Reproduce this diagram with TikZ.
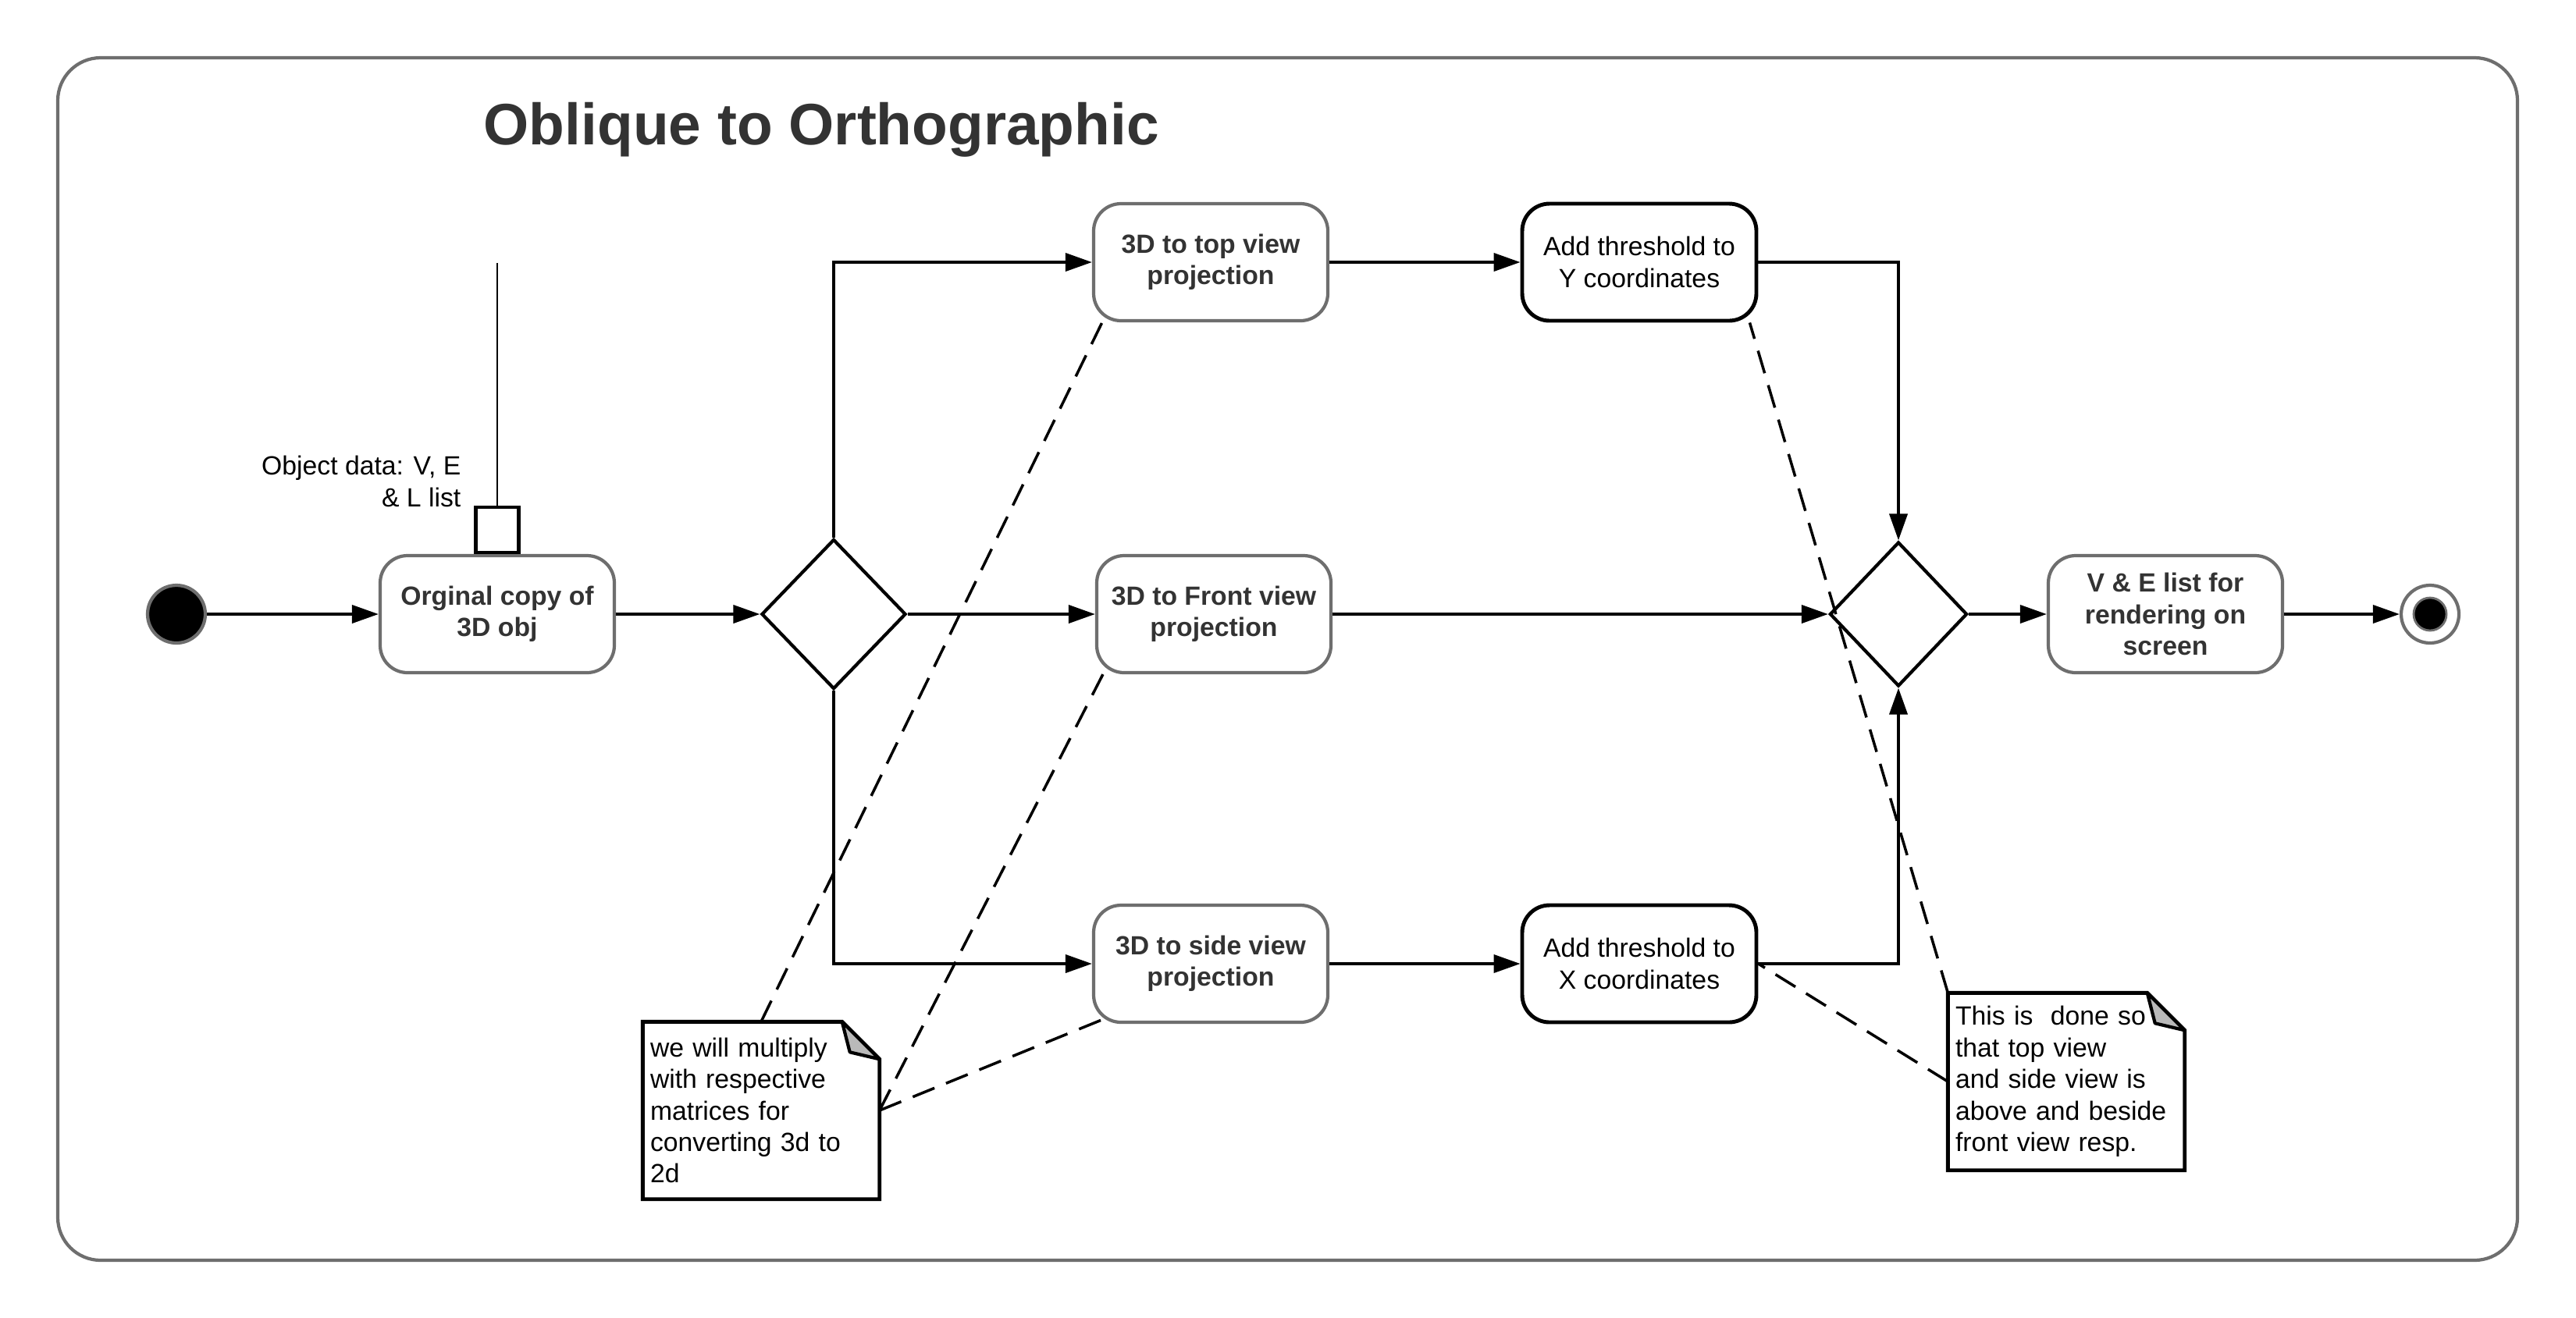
\documentclass[tikz,border=0pt]{standalone}
\usepackage{fontspec}
\setmainfont{Liberation Sans}
\usetikzlibrary {positioning}
\usetikzlibrary {shapes.geometric}
\usetikzlibrary {arrows.meta}
\definecolor{lineGray}{HTML}{6E6E6E}
\definecolor{textGray}{HTML}{333333}
\tikzset{
actBox/.style={rectangle,rounded corners=0.35cm,minimum height=1.5cm,minimum width=3cm,draw=lineGray,line width=1.2pt,align=center,text=textGray,font=\fontsize{9.6}{11.5}\selectfont\bfseries}
}
\tikzset{
thrBox/.style={rectangle,rounded corners=0.35cm,minimum height=1.5cm,minimum width=3cm,draw=black,line width=1.4pt,align=center,font=\fontsize{9.6}{11.5}\selectfont}
}
\tikzset{
noteBox/.style={rectangle,minimum height=2.26cm,text width=2.84cm,inner xsep=0.09cm,align=left,font=\fontsize{9.6}{11.5}\selectfont}
}

\begin{document}
\begin{tikzpicture}[decBox/.style={diamond,draw=black,line width=1.2pt,inner sep=0pt},flow/.style={-{Triangle[length=3.4mm,width=2.3mm]},line width=1.1pt},noteLink/.style={dash pattern=on 3mm off 1.6mm,line width=1pt}]
\useasboundingbox (0,0) rectangle (33,-16.88);
\draw[lineGray,line width=1.2pt,rounded corners=0.55cm] (0.74,-0.74) rectangle (32.25,-16.15);

\node[anchor=base west,inner sep=0pt,text=textGray,font=\fontsize{21.3}{25}\selectfont\bfseries] (title) at (6.19,-1.85) {Oblique to Orthographic};

\node[circle,minimum size=0.74cm,inner sep=0pt,fill=black,draw=lineGray,line width=1.2pt] (start) at (2.26,-7.87) {};
\node[actBox] (orig) at (6.37,-7.87) {Orginal copy of\\3D obj};
\node[rectangle,draw=black,line width=1.2pt,minimum width=0.55cm,minimum height=0.58cm,above=0 of orig] (pin) {};
\coordinate (pinTop) at (6.37,-3.37);
\node[anchor=east,inner sep=0pt,align=right,font=\fontsize{9.6}{11.5}\selectfont] (objData) at (5.91,-6.17) {Object data: V, E\\\& L list};

\node[decBox,minimum width=1.85cm,minimum height=1.92cm] (decA) at (10.68,-7.87) {};
\node[actBox] (topView) at (15.51,-3.36) {3D to top view\\projection};
\node[actBox] (frontView) at (15.55,-7.87) {3D to Front view\\projection};
\node[actBox] (sideView) at (15.51,-12.35) {3D to side view\\projection};
\node[thrBox] (thrY) at (21.0,-3.36) {Add threshold to\\Y coordinates};
\node[thrBox] (thrX) at (21.0,-12.35) {Add threshold to\\X coordinates};
\node[decBox,minimum width=1.76cm,minimum height=1.85cm] (decB) at (24.32,-7.87) {};
\node[actBox] (veList) at (27.74,-7.87) {V \& E list for\\rendering on\\screen};
\node[circle,minimum size=0.74cm,inner sep=0pt,draw=lineGray,line width=1.2pt] (stop) at (31.13,-7.87) {};
\node[circle,minimum size=0.42cm,inner sep=0pt,fill=black,draw=lineGray,line width=0.8pt] (stopDot) at (stop) {};

\node[noteBox] (noteA) at (9.75,-14.23) {we will multiply\\with respective\\matrices for\\converting 3d to\\2d};
\node[noteBox] (noteB) at (26.47,-13.86) {This is\ \ done so\\that top view\\and side view is\\above and beside\\front view resp.};
\foreach \n in {noteA,noteB}
{
\draw[line width=1.4pt] (\n.north west) -- ([xshift=-0.48cm]\n.north east) -- ([yshift=-0.48cm]\n.north east) -- (\n.south east) -- (\n.south west) -- cycle;
\filldraw[fill=gray!55,line width=1.2pt,line join=round] ([xshift=-0.48cm]\n.north east) -- ([xshift=-0.38cm,yshift=-0.39cm]\n.north east) -- ([yshift=-0.48cm]\n.north east) -- cycle;
}
%------------------------------------------------------------------------------------------------------------%
\draw[line width=0.7pt] (pin) -- (pinTop);
\draw[flow] (start) -- (orig);
\draw[flow] (orig) -- (decA);
\draw[flow] (decA.north) |- (topView);
\draw[flow] (decA) -- (frontView);
\draw[flow] (decA.south) |- (sideView);
\draw[flow] (topView) -- (thrY);
\draw[flow] (sideView) -- (thrX);
\draw[flow] (thrY.east) -| (decB.north);
\draw[flow] (frontView) -- (decB);
\draw[flow] (thrX.east) -| (decB.south);
\draw[flow] (decB) -- (veList);
\draw[flow] (veList) -- (stop);
%------------------------------------------------------------------------------------------------------------%
\draw[noteLink] (noteA.north) -- ([xshift=0.13cm]topView.south west);
\draw[noteLink] (noteA.east) -- ([xshift=0.1cm]frontView.south west);
\draw[noteLink] (noteA.east) -- ([xshift=0.12cm,yshift=0.05cm]sideView.south west);
\draw[noteLink] (noteB.north west) -- ([xshift=-0.11cm]thrY.south east);
\draw[noteLink] (noteB.west) -- (thrX.east);

\end{tikzpicture}
\end{document}
